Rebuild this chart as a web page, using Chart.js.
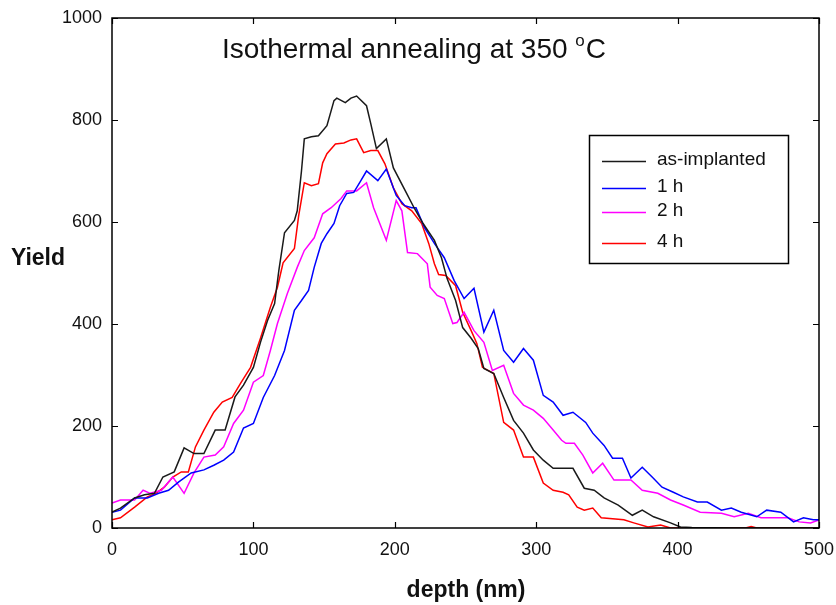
<!DOCTYPE html>
<html><head><meta charset="utf-8">
<script src="https://cdn.jsdelivr.net/npm/chart.js@4"></script>
<style>html,body{margin:0;padding:0;background:#fff}#wrap{width:836px;height:605px}</style>
</head><body><div id="wrap"><canvas id="c" width="836" height="605"></canvas></div>
<script>
const xTicks = [0, 100, 200, 300, 400, 500];
const yTicks = [0, 200, 400, 600, 800, 1000];
const seriesLabels = ['as-implanted', '1 h', '2 h', '4 h'];
const seriesColors = ['#1a1a1a', '#0000ff', '#ff00ff', '#ff0000'];

const asDepth = [0,6,16,23,30,36,44,51,58,65,73,80,87,93,100,105,110,115,118,122,129,131,134,136,141,146,152,157,159,165,169,173,180,183,187,194,199,208,214,220,228,233,237,243,248,254,259,263,270,277,284,291,298,305,312,326,334,341,348,358,368,375,383,395,402,410,440,500];
const asYield = [31,39,59,65,68,100,110,157,146,146,192,192,257,280,315,364,407,440,505,579,603,622,700,763,767,769,789,838,843,834,843,847,828,793,744,763,706,658,626,597,564,530,489,446,393,372,352,313,303,256,211,186,153,133,117,117,78,74,59,45,25,35,22,10,2,1,0,0];

const h1Depth = [0,6,16,25,33,40,47,56,65,72,79,86,93,100,107,115,122,129,134,139,143,148,152,157,161,166,171,176,180,188,194,201,207,212,215,221,228,235,242,249,256,263,270,277,284,291,298,305,312,319,326,335,340,348,354,361,367,375,382,389,397,404,414,421,431,438,445,456,463,473,482,489,496,500];
const h1Yield = [31,35,59,59,68,74,90,108,114,123,133,149,196,205,256,299,348,427,446,466,511,558,577,597,632,656,658,681,700,681,704,652,632,628,628,589,558,530,485,450,470,384,427,348,325,352,329,260,247,221,227,207,186,162,137,137,98,119,100,80,70,61,51,51,35,39,31,22,35,31,12,20,16,16];

const h2Depth = [0,6,16,22,27,35,43,51,58,65,73,79,86,93,100,107,112,117,124,131,136,143,149,155,162,166,173,180,185,194,201,205,209,216,223,225,230,235,241,244,249,256,263,269,277,284,291,298,305,312,318,321,327,333,340,347,355,367,375,386,395,404,416,431,440,450,459,478,486,494,500];
const h2Yield = [49,55,55,74,68,74,100,68,108,139,143,159,205,231,286,299,348,401,460,511,544,569,616,628,646,661,661,677,628,564,642,622,540,538,518,472,456,450,401,403,423,387,364,309,319,264,241,231,215,192,172,166,166,143,108,127,94,94,74,68,55,45,31,29,22,29,20,20,12,10,16];

const h4Depth = [0,6,16,25,31,37,43,49,54,59,65,72,78,85,91,98,105,112,117,121,129,132,136,141,146,149,152,158,164,169,173,178,183,188,193,199,205,212,219,224,228,231,236,243,248,254,258,262,270,277,284,291,298,305,312,319,323,329,334,340,346,362,369,379,388,395,448,452,456,500];
const h4Yield = [16,20,41,61,68,80,100,110,110,159,192,227,247,256,284,315,372,433,472,520,548,612,677,671,675,716,734,753,755,761,763,736,740,740,714,667,636,622,597,558,518,497,495,475,423,387,362,315,303,207,192,139,139,88,74,70,65,41,35,39,20,16,10,2,6,0,0,3,0,0];

function pts(d, y) { return d.map((v, i) => ({x: v, y: y[i]})); }
const depthSets = [asDepth, h1Depth, h2Depth, h4Depth];
const yieldSets = [asYield, h1Yield, h2Yield, h4Yield];

const FONT = '"Liberation Sans", Arial, sans-serif';

const framePlugin = {
  id: 'frame',
  afterDatasetsDraw(chart) {
    const ctx = chart.ctx, a = chart.chartArea;
    const xs = chart.scales.x, ys = chart.scales.y;
    ctx.save();
    ctx.strokeStyle = '#000';
    ctx.lineWidth = 1.5;
    ctx.strokeRect(a.left, a.top, a.right - a.left, a.bottom - a.top);
    ctx.lineWidth = 1.2;
    ctx.beginPath();
    xTicks.forEach(v => {
      const px = Math.round(xs.getPixelForValue(v)) + 0.5;
      ctx.moveTo(px, a.bottom); ctx.lineTo(px, a.bottom - 6);
      ctx.moveTo(px, a.top); ctx.lineTo(px, a.top + 6);
    });
    yTicks.forEach(v => {
      const py = Math.round(ys.getPixelForValue(v)) + 0.5;
      ctx.moveTo(a.left, py); ctx.lineTo(a.left + 6, py);
      ctx.moveTo(a.right, py); ctx.lineTo(a.right - 6, py);
    });
    ctx.stroke();
    ctx.restore();
  },
  afterDraw(chart) {
    const ctx = chart.ctx;
    ctx.save();
    ctx.fillStyle = '#111';
    ctx.font = '28px ' + FONT;
    ctx.textBaseline = 'alphabetic';
    ctx.textAlign = 'left';
    let x = 222;
    const base = 58;
    const t1 = 'Isothermal annealing at 350 ';
    ctx.fillText(t1, x, base);
    x += ctx.measureText(t1).width;
    ctx.font = '17px ' + FONT;
    ctx.fillText('o', x, base - 12);
    x += ctx.measureText('o').width + 1;
    ctx.font = '28px ' + FONT;
    ctx.fillText('C', x, base);
    ctx.font = 'bold 23px ' + FONT;
    ctx.textBaseline = 'middle';
    ctx.textAlign = 'center';
    ctx.fillText('Yield', 38, 259);
    ctx.fillText('depth (nm)', 466, 591);
    ctx.strokeStyle = '#000';
    ctx.lineWidth = 1.5;
    ctx.strokeRect(589.5, 135.5, 199, 128);
    const rowsY = [160, 187, 211, 242];
    ctx.font = '19px ' + FONT;
    ctx.textAlign = 'left';
    chart.data.datasets.forEach((ds, i) => {
      ctx.strokeStyle = ds.borderColor;
      ctx.lineWidth = 1.6;
      ctx.beginPath();
      ctx.moveTo(602, rowsY[i] + 1.5);
      ctx.lineTo(646, rowsY[i] + 1.5);
      ctx.stroke();
      ctx.fillStyle = '#111';
      ctx.fillText(ds.label, 657, rowsY[i]);
    });
    ctx.restore();
  }
};

new Chart(document.getElementById('c'), {
  type: 'line',
  data: {
    datasets: seriesLabels.map((lab, i) => ({
      label: lab,
      data: pts(depthSets[i], yieldSets[i]),
      borderColor: seriesColors[i],
      borderWidth: 1.5,
      pointRadius: 0,
      tension: 0,
      fill: false
    }))
  },
  options: {
    responsive: false,
    animation: false,
    devicePixelRatio: 1,
    layout: {padding: {left: 0, right: 17, top: 18, bottom: 0}},
    plugins: {legend: {display: false}, tooltip: {enabled: false}, title: {display: false}},
    scales: {
      x: {
        type: 'linear', min: 0, max: 500,
        afterBuildTicks: s => { s.ticks = xTicks.map(v => ({value: v})); },
        afterFit: s => { s.height = 77; s.paddingLeft = 0; s.paddingRight = 0; },
        grid: {display: false, drawTicks: false},
        border: {display: false},
        ticks: {color: '#111', font: {size: 18, family: FONT}, padding: 11, maxRotation: 0, autoSkip: false, callback: v => String(v)}
      },
      y: {
        type: 'linear', min: 0, max: 1000,
        afterBuildTicks: s => { s.ticks = yTicks.map(v => ({value: v})); },
        afterFit: s => { s.width = 112; s.paddingTop = 0; s.paddingBottom = 0; },
        grid: {display: false, drawTicks: false},
        border: {display: false},
        ticks: {color: '#111', font: {size: 18, family: FONT}, padding: 10, autoSkip: false, callback: v => String(v)}
      }
    }
  },
  plugins: [framePlugin]
});
</script>
</body></html>
